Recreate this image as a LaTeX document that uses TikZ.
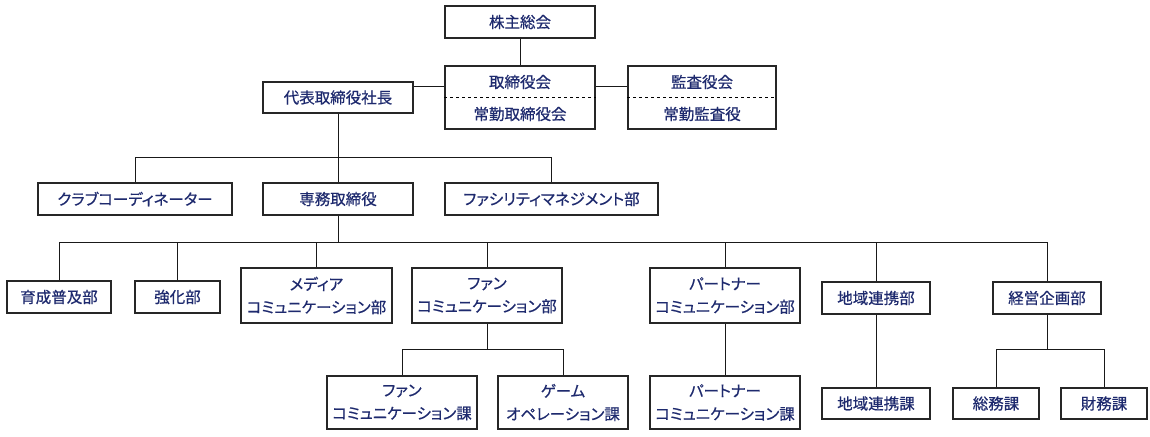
\documentclass[tikz,border=0pt]{standalone}
\usepackage{fontspec}
\setmainfont{Noto Sans CJK JP}[RawFeature=+palt,FakeBold=0.6]
\definecolor{txt}{RGB}{30,42,110}
\begin{document}
\begin{tikzpicture}[x=1pt,y=-1pt,
  box/.style={draw=black!85,line width=1.1pt,fill=white,inner sep=0pt,text=txt,
    font=\fontsize{15.5}{23}\selectfont,align=center,minimum height=32pt},
  lbl/.style={inner sep=0pt,text=txt,font=\fontsize{15.5}{23}\selectfont},
  conn/.style={draw=black!90,line width=0.9pt}]
\useasboundingbox (0,0) rectangle (1150,436);
% top
\node[box,minimum width=150pt] (kabu) at (520,22) {株主総会};
\node[box,minimum width=150pt,minimum height=63pt] (tori) at (520,97.5) {};
\node[lbl] (tori1) at ([yshift=15.5pt]tori.center) {取締役会};
\node[lbl] (tori2) at ([yshift=-16.5pt]tori.center) {常勤取締役会};
\draw[dashed,line width=0.8pt] (tori.west) -- (tori.east);
\node[box,minimum width=148pt,minimum height=63pt] (kansa) at (702,97.5) {};
\node[lbl] (kansa1) at ([yshift=15.5pt]kansa.center) {監査役会};
\node[lbl] (kansa2) at ([yshift=-16.5pt]kansa.center) {常勤監査役};
\draw[dashed,line width=0.8pt] (kansa.west) -- (kansa.east);
\node[box,minimum width=150pt,minimum height=31pt] (daihyo) at (338,97.5) {代表取締役社長};
% row 2
\node[box,minimum width=194pt] (club) at (135,199) {クラブコーディネーター};
\node[box,minimum width=150pt] (senmu) at (338,199) {専務取締役};
\node[box,minimum width=213pt] (facility) at (551.5,199) {ファシリティマネジメント部};
% row 3
\node[box,minimum width=104pt] (ikusei) at (59,297) {育成普及部};
\node[box,minimum width=85pt] (kyoka) at (177.5,297) {強化部};
\node[box,minimum width=151pt,minimum height=55pt] (media) at (316.5,295.5) {メディア\\コミュニケーション部};
\node[box,minimum width=150pt,minimum height=55pt] (fan) at (487,295.5) {ファン\\コミュニケーション部};
\node[box,minimum width=150pt,minimum height=55pt] (partner) at (725,295.5) {パートナー\\コミュニケーション部};
\node[box,minimum width=108pt] (chiiki) at (876,298) {地域連携部};
\node[box,minimum width=108pt] (keiei) at (1047,298) {経営企画部};
% row 4
\node[box,minimum width=150pt,minimum height=53pt] (fanka) at (402,402.5) {ファン\\コミュニケーション課};
\node[box,minimum width=130pt,minimum height=53pt] (game) at (563,402.5) {ゲーム\\オペレーション課};
\node[box,minimum width=150pt,minimum height=53pt] (partnerka) at (725,402.5) {パートナー\\コミュニケーション課};
\node[box,minimum width=108pt,minimum height=31pt] (chiikika) at (876,403.5) {地域連携課};
\node[box,minimum width=86pt,minimum height=31pt] (somu) at (996,403.5) {総務課};
\node[box,minimum width=86pt,minimum height=31pt] (zaimu) at (1104,403.5) {財務課};
% connectors
\draw[conn] (kabu.south) -- (tori.north);
\path (tori.north west) ++(0,21) coordinate (tl);
\draw[conn] (tl) -- (tl -| daihyo.east);
\draw[conn] (tori.east |- tl) -- (kansa.west |- tl);
\coordinate (b2) at (0,157);
\draw[conn] (daihyo.south) -- (senmu.north);
\draw[conn] (club.north) -- (club.north |- b2) -- (facility.north |- b2) -- (facility.north);
\coordinate (b3) at (0,242);
\draw[conn] (ikusei.north) -- (ikusei.north |- b3) -- (keiei.north |- b3) -- (keiei.north);
\draw[conn] (senmu.south) -- (senmu.south |- b3);
\foreach \n in {kyoka,media,fan,partner,chiiki}{
  \draw[conn] (\n.north) -- (\n.north |- b3);
}
\coordinate (b4) at (0,349);
\draw[conn] (fan.south) -- (fan.south |- b4);
\draw[conn] (fanka.north) -- (fanka.north |- b4) -- (game.north |- b4) -- (game.north);
\draw[conn] (partner.south) -- (partnerka.north);
\draw[conn] (chiiki.south) -- (chiikika.north);
\draw[conn] (keiei.south) -- (keiei.south |- b4);
\draw[conn] (somu.north) -- (somu.north |- b4) -- (zaimu.north |- b4) -- (zaimu.north);
\end{tikzpicture}
\end{document}
